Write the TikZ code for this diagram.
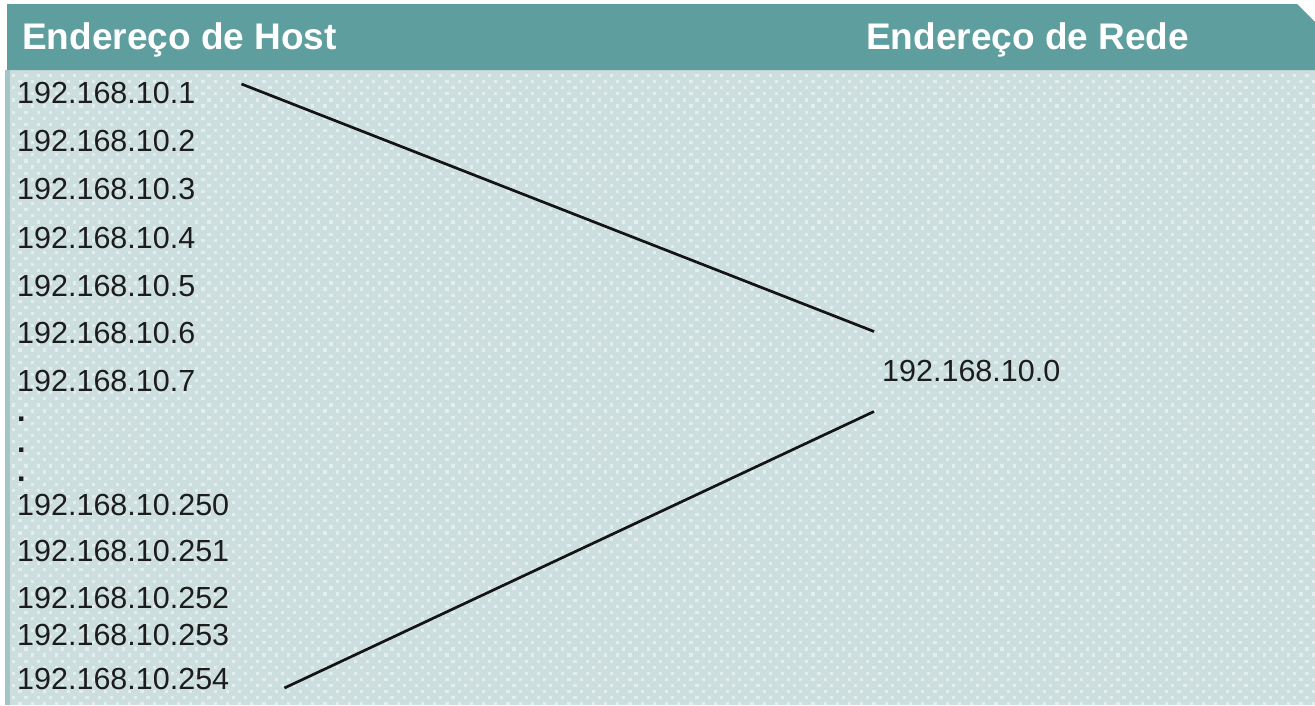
\documentclass[tikz,border=0pt]{standalone}
\usepackage{fontspec}
\setmainfont{Liberation Sans}
\usetikzlibrary{calc}
\definecolor{headteal}{HTML}{5F9E9E}
\definecolor{panel}{HTML}{CDDEDE}
\definecolor{paneldot}{HTML}{E3EFEF}
\definecolor{edge}{HTML}{A3C5C5}
\definecolor{ink}{HTML}{1C1C1C}
\tikzset{
  head/.style={anchor=base west, inner sep=0pt, text=white,
    font=\fontsize{37}{40}\selectfont\bfseries},
  addr/.style={anchor=base west, inner sep=0pt, text=ink,
    font=\fontsize{30.5}{32}\selectfont},
  ellip/.style={addr, font=\fontsize{30.5}{32}\selectfont\bfseries},
  link/.style={draw=black!92, line width=2.7pt},
}
\begin{document}
\begin{tikzpicture}[x=1pt,y=-1pt]
\useasboundingbox (0,0) rectangle (1315,705);
\fill[white] (0,0) rectangle (1315,705);
% dotted panel
\fill[panel] (5,70) rectangle (1315,705);
\begin{scope}
  \clip (10,70) rectangle (1315,705);
  \foreach \r in {0,...,104} {
    \pgfmathsetmacro{\yy}{75.5+6.1*\r}
    \pgfmathsetmacro{\ph}{mod(\r,2)*6.1}
    \draw[paneldot, line width=3.2pt, dash pattern=on 3.2pt off 9pt,
      dash phase=\ph pt] (0,\yy) -- (1315,\yy);
  }
\end{scope}
\fill[edge] (5,70) rectangle (10,705);
% header band with clipped corner
\fill[headteal] (7,4) -- (1297,4) -- (1315,22) -- (1315,70) -- (7,70) -- cycle;
\node[head] (hh) at (22,49) {Endereço de Host};
\node[head] (hn) at (866,49) {Endereço de Rede};
% host addresses
\node[addr] (h1) at (17,103) {192.168.10.1};
\node[addr] (h2) at (17,151) {192.168.10.2};
\node[addr] (h3) at (17,199.5) {192.168.10.3};
\node[addr] (h4) at (17,248) {192.168.10.4};
\node[addr] (h5) at (17,296) {192.168.10.5};
\node[addr] (h6) at (17,343.5) {192.168.10.6};
\node[addr] (h7) at (17,391.5) {192.168.10.7};
\node[ellip] (d1) at (17,421) {.};
\node[ellip] (d2) at (17,452) {.};
\node[ellip] (d3) at (17,481) {.};
\node[addr] (h250) at (17,515) {192.168.10.250};
\node[addr] (h251) at (17,561) {192.168.10.251};
\node[addr] (h252) at (17,608) {192.168.10.252};
\node[addr] (h253) at (17,645) {192.168.10.253};
\node[addr] (h254) at (17,689) {192.168.10.254};
% network address
\node[addr] (net) at (882,381.5) {192.168.10.0};
% connector ends
\coordinate (a1) at ($(h1.base east)+(46,-19)$);
\coordinate (a2) at ($(net.base west)+(-8,-50)$);
\coordinate (b1) at ($(h254.base east)+(55,-1)$);
\coordinate (b2) at ($(net.base west)+(-8,30)$);
\draw[link] (a1) -- (a2);
\draw[link] (b1) -- (b2);
\end{tikzpicture}
\end{document}
